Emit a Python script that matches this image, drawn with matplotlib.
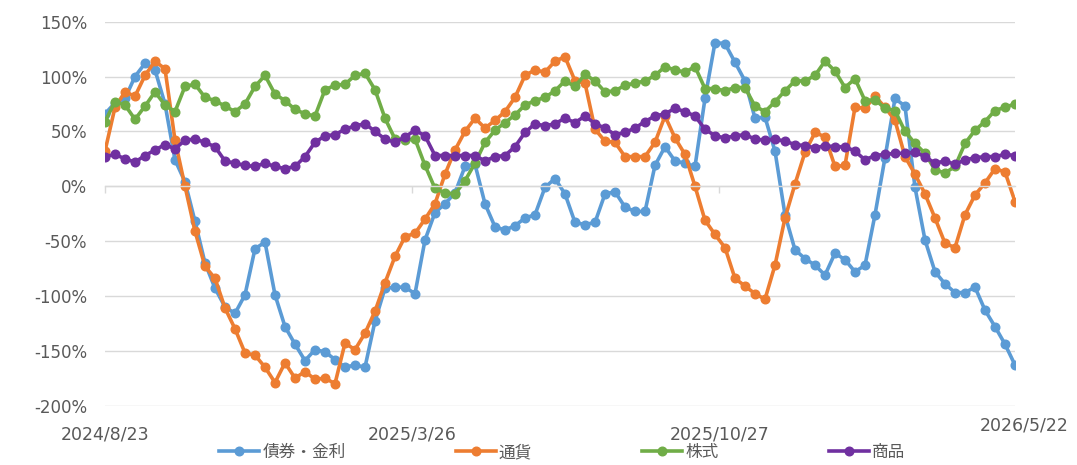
import matplotlib
matplotlib.use("Agg")
import matplotlib.pyplot as plt
import matplotlib.dates as mdates
from matplotlib.transforms import blended_transform_factory
import pandas as pd

plt.rcParams['font.family'] = ['DejaVu Sans', 'Noto Sans CJK JP']

dates = pd.date_range("2024-08-23", "2026-05-22", freq="7D")

series_names = ["債券・金利", "通貨", "株式", "商品"]

bonds = [66, 76, 80, 100, 112, 106, 75, 24, 4, -32, -70, -93, -110, -116, -99, -57, -51, -99, -128, -144,
         -159, -149, -151, -158, -165, -163, -165, -123, -93, -92, -92, -98, -49, -24, -16, -6, 18, 20, -16, -37,
         -40, -36, -29, -26, -1, 7, -7, -33, -35, -33, -7, -5, -19, -23, -23, 19, 36, 23, 21, 18,
         80, 131, 130, 113, 96, 62, 63, 32, -26, -58, -66, -72, -81, -61, -67, -78, -72, -26, 26, 80,
         73, -1, -49, -78, -89, -97, -97, -92, -113, -128, -144, -163]

currency = [32, 72, 86, 82, 101, 114, 107, 42, 0, -41, -73, -84, -111, -130, -152, -154, -165, -179, -161, -175,
            -169, -176, -175, -180, -143, -149, -134, -114, -88, -64, -46, -43, -30, -16, 11, 33, 50, 62, 53, 60,
            68, 81, 101, 106, 104, 114, 118, 96, 94, 52, 41, 40, 27, 27, 27, 40, 64, 44, 29, 0,
            -31, -44, -56, -84, -91, -98, -103, -72, -29, 2, 31, 49, 45, 18, 19, 72, 71, 82, 72, 60,
            27, 11, -7, -29, -52, -56, -26, -8, 3, 16, 13, -14]

equity = [59, 77, 74, 61, 73, 86, 74, 68, 91, 93, 81, 78, 73, 68, 75, 91, 101, 84, 78, 70,
          66, 64, 88, 92, 93, 101, 103, 88, 62, 43, 42, 43, 19, -2, -6, -7, 5, 21, 40, 51,
          58, 65, 74, 78, 81, 87, 96, 91, 102, 96, 86, 87, 92, 94, 96, 101, 109, 106, 104, 109,
          89, 89, 87, 90, 90, 73, 68, 77, 87, 96, 96, 101, 114, 105, 90, 98, 78, 79, 71, 69,
          50, 39, 30, 15, 12, 18, 39, 51, 59, 69, 72, 75]

commodity = [27, 29, 25, 22, 28, 33, 38, 34, 42, 43, 40, 36, 23, 21, 19, 18, 21, 18, 16, 18,
             27, 40, 46, 47, 52, 55, 57, 50, 43, 40, 45, 51, 46, 28, 28, 28, 28, 28, 23, 27,
             28, 36, 49, 57, 55, 57, 62, 58, 64, 57, 53, 47, 49, 53, 59, 64, 66, 71, 68, 64,
             52, 46, 44, 46, 47, 43, 42, 43, 41, 38, 37, 35, 37, 36, 36, 32, 24, 28, 29, 30,
             30, 31, 27, 21, 23, 20, 24, 26, 27, 27, 29, 28]

colors = ["#5B9BD5", "#ED7D31", "#70AD47", "#7030A0"]

tick_dates = ["2024-08-23", "2025-03-26", "2025-10-27"]
tick_labels = ["2024/8/23", "2025/3/26", "2025/10/27"]
end_label = "2026/5/22"
y_ticks = [-200, -150, -100, -50, 0, 50, 100, 150]

xnum = mdates.date2num(dates.to_pydatetime())

fig = plt.figure(figsize=(10.77, 4.65), dpi=100)
ax = fig.add_axes([105 / 1077, 1 - 405.6 / 465, 910 / 1077, (405.6 - 21.7) / 465])

for vals, name, c in zip([bonds, currency, equity, commodity], series_names, colors):
    ax.plot(xnum, vals, color=c, lw=2.6, marker='o', markersize=6.2, label=name)

ax.set_xlim(xnum[0], xnum[-1])
ax.set_ylim(-200, 150)
ax.set_yticks(y_ticks)
ax.set_yticklabels([f"{v}%" for v in y_ticks])
ax.yaxis.grid(True, color="#D9D9D9", lw=1.0)
ax.set_axisbelow(True)
ax.tick_params(axis='y', length=0, pad=13, labelsize=12, labelcolor="#595959")

for s in ["left", "right", "top"]:
    ax.spines[s].set_visible(False)
ax.spines["bottom"].set_position(("data", 0))
ax.spines["bottom"].set_color("#D9D9D9")
ax.spines["bottom"].set_linewidth(1.0)
tnum = mdates.date2num(pd.to_datetime(tick_dates).to_pydatetime())
ax.set_xticks(tnum)
ax.tick_params(axis='x', direction='out', length=5, width=1, color="#D9D9D9", labelbottom=False)

sec = ax.secondary_xaxis('bottom')
sec.set_xticks(tnum)
sec.set_xticklabels(tick_labels)
sec.spines['bottom'].set_visible(False)
sec.tick_params(length=0, pad=14, labelsize=12.5, labelcolor="#595959")

ax.annotate(end_label, xy=(xnum[-1], 0), xycoords=('data', 'axes fraction'),
            xytext=(9, -20), textcoords='offset pixels', ha='center', va='center',
            fontsize=12.5, color="#595959")

handles, labels = ax.get_legend_handles_labels()
leg = fig.legend(handles, labels, loc='center', bbox_to_anchor=(0.522, 0.027), ncol=4, frameon=False,
                 prop={'family': ['Noto Sans CJK JP', 'DejaVu Sans'], 'size': 12},
                 handlelength=2.4, handletextpad=0.2, columnspacing=6.6)
for t in leg.get_texts():
    t.set_color("#595959")

fig.savefig("out.png", dpi=100)
